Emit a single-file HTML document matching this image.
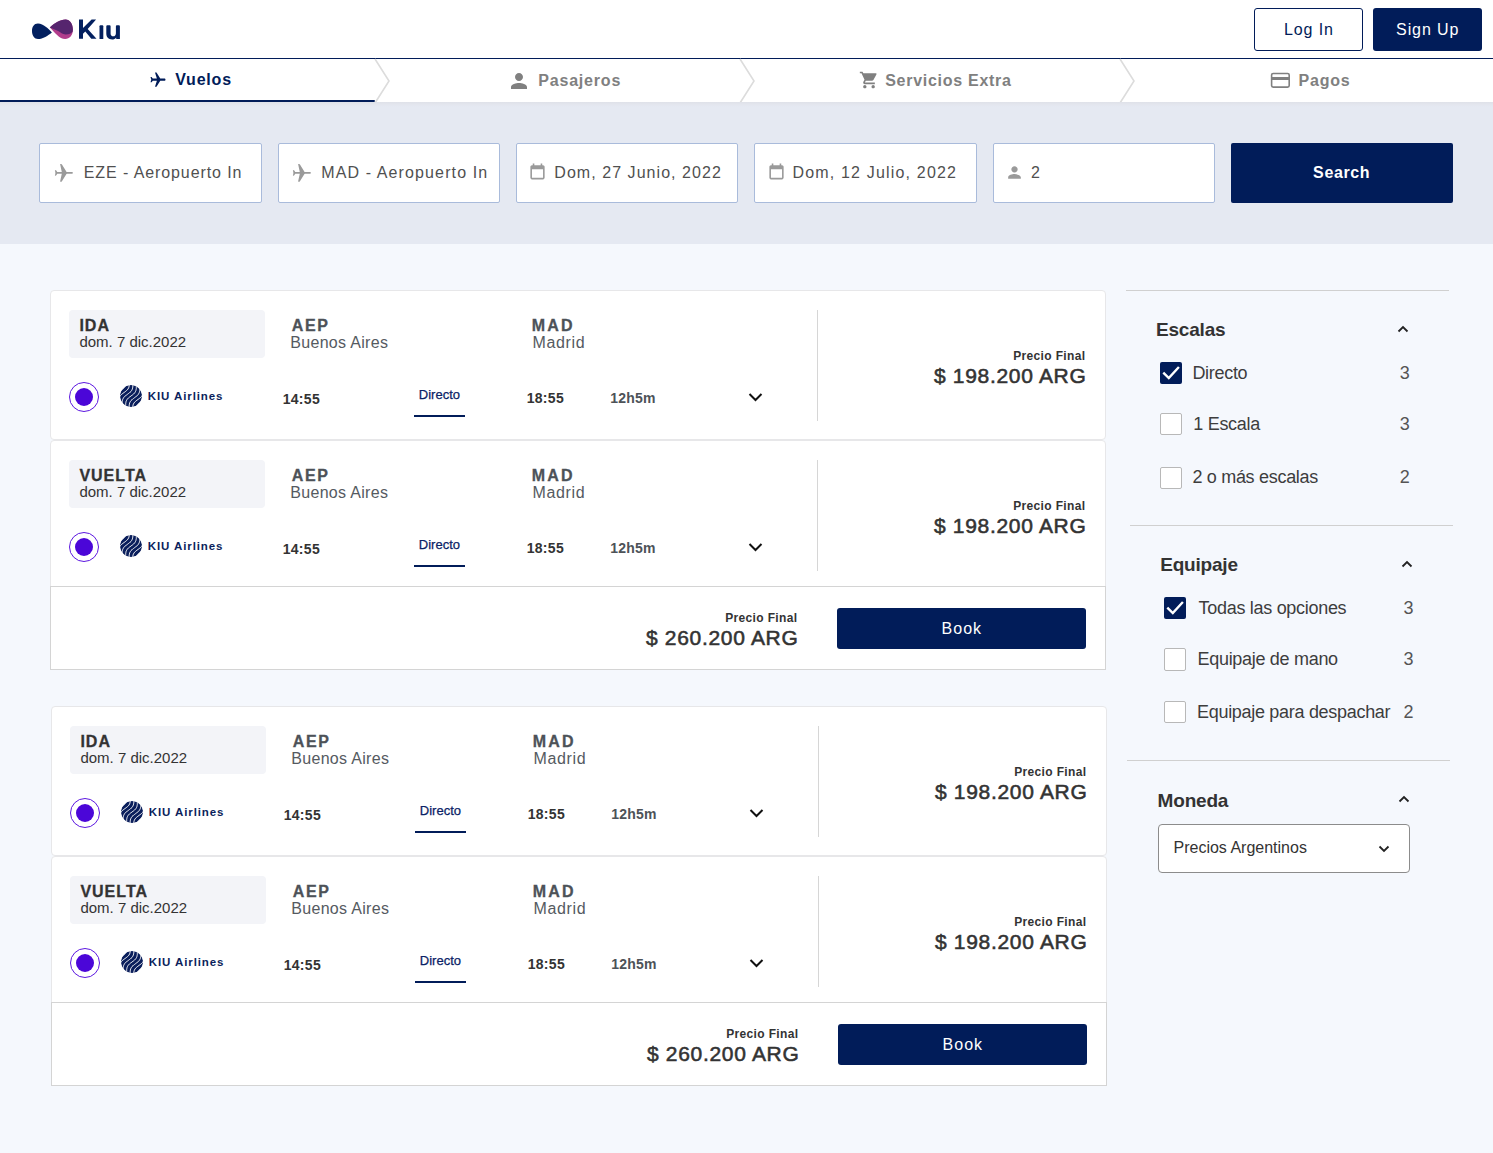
<!DOCTYPE html>
<html><head><meta charset="utf-8"><title>Kiu - Vuelos</title>
<style>
html,body{margin:0;padding:0;}
body{width:1493px;height:1153px;position:relative;overflow:hidden;background:#f5f8fd;font-family:"Liberation Sans",sans-serif;}
.b{position:absolute;display:block;}
.t{position:absolute;white-space:nowrap;}
</style></head><body>
<div class="b" style="left:0px;top:0px;width:1493px;height:58px;background:#fff"></div>
<div class="b" style="left:0px;top:58px;width:1493px;height:1px;background:#011c59"></div>
<svg class="b" style="left:0px;top:0px" width="130" height="58" viewBox="0 0 130 58">
<path d="M51.9 32.4 C48.5 29, 43.5 23.8, 38 23.6 C34.2 23.5, 32 27, 32 31 C32 35.5, 34.5 39, 38 39 C43 39, 48 35.5, 51.9 32.4 Z" fill="#03205f"/>
<path d="M49.8 27.4 C54 23.5, 60 19.4, 65.5 19.4 C70 19.4, 72.9 24, 72.9 29.7 C72.9 35, 69.5 39, 65.2 39 C59.5 39, 54.5 32, 49.8 27.4 Z" fill="#b23d8c"/>
<path d="M49.8 27.4 C52.5 28.6, 55.5 29.8, 58.1 31.1 C60.5 32.5, 62.5 34.4, 65.5 34.5 C68.8 34.6, 71.5 33.5, 72.6 31.8 L72.9 29.7 C72.9 24, 70 19.4, 65.5 19.4 C60 19.4, 54 23.5, 49.8 27.4 Z" fill="#56256e"/>
<path d="M79 19.4 H83 V28 L91.6 19.4 H96.1 L87.7 28.9 L96.5 38.8 H91.3 L85.3 31.5 L83 33.8 V38.8 H79 Z" fill="#03205f"/>
<path d="M99.5 26.2 Q99.5 25.2 100.5 25.2 H102.3 Q103.3 25.2 103.3 26.2 V39 H99.5 Z" fill="#03205f"/>
<path d="M106.3 26.2 Q106.3 25.2 107.3 25.2 H109.6 Q110.6 25.2 110.6 26.2 V33.5 C110.6 35.4 111.6 36.3 113.2 36.3 C114.9 36.3 115.9 35.2 115.9 33.2 V26.2 Q115.9 25.2 116.9 25.2 H118.9 Q119.9 25.2 119.9 26.2 V39 H116.2 V37.4 C115.2 38.8 113.8 39.5 112.2 39.5 C108.4 39.5 106.3 37.2 106.3 33.6 Z" fill="#03205f"/>
</svg>
<div class="b" style="left:1254px;top:8px;width:109px;height:43px;box-sizing:border-box;border:1.25px solid #011c59;border-radius:3px;background:#fff"></div>
<div class="t" style="left:1008.90px;width:600px;text-align:center;top:22.15px;font-size:16px;line-height:16px;font-weight:400;color:#011c59;letter-spacing:0.9px;">Log In</div>
<div class="b" style="left:1373px;top:8px;width:109px;height:43px;background:#011c59;border-radius:3px"></div>
<div class="t" style="left:1127.70px;width:600px;text-align:center;top:22.15px;font-size:16px;line-height:16px;font-weight:400;color:#fff;letter-spacing:0.9px;">Sign Up</div>
<div class="b" style="left:0px;top:59px;width:1493px;height:43px;background:#fff"></div>
<div class="b" style="left:0px;top:100px;width:375px;height:2px;background:#011c59;border-radius:0 2px 2px 0"></div>
<svg class="b" style="left:372.7px;top:58px" width="20" height="46" viewBox="0 0 20 46"><polyline points="2,1 16,23 2,45" fill="none" stroke="#dcdcdc" stroke-width="1.6"/></svg>
<svg class="b" style="left:737.5px;top:58px" width="20" height="46" viewBox="0 0 20 46"><polyline points="2,1 16,23 2,45" fill="none" stroke="#dcdcdc" stroke-width="1.6"/></svg>
<svg class="b" style="left:1117.5px;top:58px" width="20" height="46" viewBox="0 0 20 46"><polyline points="2,1 16,23 2,45" fill="none" stroke="#dcdcdc" stroke-width="1.6"/></svg>
<svg class="b" style="left:148.5px;top:71.3px" width="18" height="18" viewBox="0 0 24 24"><g fill="#011c59"><path d="M21 16v-2l-8-5V3.5c0-.83-.67-1.5-1.5-1.5S10 2.67 10 3.5V9l-8 5v2l8-2.5V19l-2 1.5V22l3.5-1 3.5 1v-1.5L13 19v-5.5l8 2.5z" transform="rotate(90 12 12)"/></g></svg>
<div class="t" style="left:175.20px;top:72.45px;font-size:16px;line-height:16px;font-weight:700;color:#011c59;letter-spacing:0.8px;">Vuelos</div>
<svg class="b" style="left:507px;top:69px" width="24" height="24" viewBox="0 0 24 24"><g fill="#808080"><path d="M12 12c2.21 0 4-1.79 4-4s-1.79-4-4-4-4 1.79-4 4 1.79 4 4 4zm0 2c-2.67 0-8 1.34-8 4v2h16v-2c0-2.66-5.33-4-8-4z"/></g></svg>
<div class="t" style="left:538.30px;top:72.65px;font-size:16px;line-height:16px;font-weight:700;color:#808080;letter-spacing:0.8px;">Pasajeros</div>
<svg class="b" style="left:858.7px;top:70.4px" width="20" height="20" viewBox="0 0 24 24"><g fill="#808080"><path d="M7 18c-1.1 0-1.99.9-1.99 2S5.9 22 7 22s2-.9 2-2-.9-2-2-2zM1 2v2h2l3.6 7.59-1.35 2.45c-.16.28-.25.61-.25.96 0 1.1.9 2 2 2h12v-2H7.42c-.14 0-.25-.11-.25-.25l.03-.12.9-1.63h7.45c.75 0 1.41-.41 1.75-1.03l3.58-6.49A1.003 1.003 0 0020 4H5.21l-.94-2H1zm16 16c-1.1 0-1.99.9-1.99 2s.89 2 1.99 2 2-.9 2-2-.9-2-2-2z"/></g></svg>
<div class="t" style="left:885.20px;top:72.65px;font-size:16px;line-height:16px;font-weight:700;color:#808080;letter-spacing:0.72px;">Servicios Extra</div>
<svg class="b" style="left:1268px;top:70px" width="24" height="20" viewBox="0 0 24 20"><rect x="3.6" y="3.5" width="17.6" height="13.6" rx="1.6" fill="none" stroke="#808080" stroke-width="1.6"/><rect x="3" y="7" width="18.8" height="3" fill="#808080"/></svg>
<div class="t" style="left:1298.50px;top:72.65px;font-size:16px;line-height:16px;font-weight:700;color:#808080;letter-spacing:0.8px;">Pagos</div>
<div class="b" style="left:0px;top:102px;width:1493px;height:142px;background:linear-gradient(#dfe1e8 0px,#e3e6ee 2.5px,#e5e9f2 5px)"></div>
<div class="b" style="left:0px;top:244px;width:1493px;height:909px;background:#f5f8fd"></div>
<div class="b" style="left:39.3px;top:143px;width:222.3px;height:60px;box-sizing:border-box;border:1px solid #a9bbdb;border-radius:2px;background:#fff"></div>
<div class="b" style="left:277.6px;top:143px;width:222.3px;height:60px;box-sizing:border-box;border:1px solid #a9bbdb;border-radius:2px;background:#fff"></div>
<div class="b" style="left:516.0px;top:143px;width:222.3px;height:60px;box-sizing:border-box;border:1px solid #a9bbdb;border-radius:2px;background:#fff"></div>
<div class="b" style="left:754.3px;top:143px;width:222.3px;height:60px;box-sizing:border-box;border:1px solid #a9bbdb;border-radius:2px;background:#fff"></div>
<div class="b" style="left:992.6px;top:143px;width:222.3px;height:60px;box-sizing:border-box;border:1px solid #a9bbdb;border-radius:2px;background:#fff"></div>
<svg class="b" style="left:50px;top:158px" width="30" height="30" viewBox="0 0 30 30"><g fill="#9a9a9a"><path d="M7 13.9 H22 Q22.9 13.9 22.9 14.8 Q22.9 15.7 22 15.7 H7 Z"/><path d="M4.9 12.1 Q6.6 12.3 7.2 13.9 V15.7 Q6.6 17.6 4.9 17.9 Q5.9 15 4.9 12.1 Z"/><path d="M11.9 14.8 L11.8 13.95 L10.1 6.1 Q11 5.7 11.8 6.2 L16.6 13.95 L17 14.8 L16.6 15.65 L11.8 23.5 Q11 24 10.1 23.6 L11.8 15.65 Z"/></g></svg>
<div class="t" style="left:83.80px;top:165.45px;font-size:16px;line-height:16px;font-weight:400;color:#505050;letter-spacing:0.9px;">EZE - Aeropuerto In</div>
<svg class="b" style="left:288.3px;top:158px" width="30" height="30" viewBox="0 0 30 30"><g fill="#9a9a9a"><path d="M7 13.9 H22 Q22.9 13.9 22.9 14.8 Q22.9 15.7 22 15.7 H7 Z"/><path d="M4.9 12.1 Q6.6 12.3 7.2 13.9 V15.7 Q6.6 17.6 4.9 17.9 Q5.9 15 4.9 12.1 Z"/><path d="M11.9 14.8 L11.8 13.95 L10.1 6.1 Q11 5.7 11.8 6.2 L16.6 13.95 L17 14.8 L16.6 15.65 L11.8 23.5 Q11 24 10.1 23.6 L11.8 15.65 Z"/></g></svg>
<div class="t" style="left:321.20px;top:165.45px;font-size:16px;line-height:16px;font-weight:400;color:#505050;letter-spacing:1.12px;">MAD - Aeropuerto In</div>
<svg class="b" style="left:528px;top:162px" width="19" height="19" viewBox="0 0 24 24"><g fill="#9a9a9a"><path d="M19 4h-1V2h-2v2H8V2H6v2H5c-1.11 0-1.99.9-1.99 2L3 20c0 1.1.89 2 2 2h14c1.1 0 2-.9 2-2V6c0-1.1-.9-2-2-2zm0 16H5V9h14v11z"/></g></svg>
<div class="t" style="left:554.30px;top:165.45px;font-size:16px;line-height:16px;font-weight:400;color:#505050;letter-spacing:1.05px;">Dom, 27 Junio, 2022</div>
<svg class="b" style="left:766.5px;top:162px" width="19" height="19" viewBox="0 0 24 24"><g fill="#9a9a9a"><path d="M19 4h-1V2h-2v2H8V2H6v2H5c-1.11 0-1.99.9-1.99 2L3 20c0 1.1.89 2 2 2h14c1.1 0 2-.9 2-2V6c0-1.1-.9-2-2-2zm0 16H5V9h14v11z"/></g></svg>
<div class="t" style="left:792.40px;top:165.45px;font-size:16px;line-height:16px;font-weight:400;color:#505050;letter-spacing:1.18px;">Dom, 12 Julio, 2022</div>
<svg class="b" style="left:1005px;top:163px" width="19" height="19" viewBox="0 0 24 24"><g fill="#9a9a9a"><path d="M12 12c2.21 0 4-1.79 4-4s-1.79-4-4-4-4 1.79-4 4 1.79 4 4 4zm0 2c-2.67 0-8 1.34-8 4v2h16v-2c0-2.66-5.33-4-8-4z"/></g></svg>
<div class="t" style="left:1030.90px;top:165.45px;font-size:16px;line-height:16px;font-weight:400;color:#505050;letter-spacing:0px;">2</div>
<div class="b" style="left:1231px;top:143px;width:222.3px;height:60px;background:#011c59;border-radius:2px"></div>
<div class="t" style="left:1041.60px;width:600px;text-align:center;top:165.25px;font-size:16px;line-height:16px;font-weight:700;color:#fff;letter-spacing:0.6px;">Search</div>
<div class="b" style="left:50px;top:290px;width:1056px;height:150px;box-sizing:border-box;border:1px solid #e7e7e9;border-radius:4px;background:#fff"></div>
<div class="b" style="left:69px;top:310px;width:196px;height:48px;background:#f3f4f8;border-radius:4px"></div>
<div class="t" style="left:79.40px;top:318.25px;font-size:16px;line-height:16px;font-weight:700;color:#333;letter-spacing:1.0px;-webkit-text-stroke:0.3px #333;">IDA</div>
<div class="t" style="left:79.40px;top:334.00px;font-size:15px;line-height:15px;font-weight:400;color:#333;letter-spacing:0px;">dom. 7 dic.2022</div>
<div class="t" style="left:291.80px;top:317.85px;font-size:16px;line-height:16px;font-weight:700;color:#4d5258;letter-spacing:1.6px;-webkit-text-stroke:0.3px #4d5258;">AEP</div>
<div class="t" style="left:290.30px;top:334.55px;font-size:16px;line-height:16px;font-weight:400;color:#555a61;letter-spacing:0.3px;">Buenos Aires</div>
<div class="t" style="left:531.80px;top:317.85px;font-size:16px;line-height:16px;font-weight:700;color:#4d5258;letter-spacing:2.2px;-webkit-text-stroke:0.3px #4d5258;">MAD</div>
<div class="t" style="left:532.50px;top:334.55px;font-size:16px;line-height:16px;font-weight:400;color:#555a61;letter-spacing:0.65px;">Madrid</div>
<div class="b" style="left:69px;top:382px;width:30px;height:30px;box-sizing:border-box;border:1.8px solid #5c17e0;border-radius:50%;background:#fff"></div>
<div class="b" style="left:74.8px;top:387.5px;width:18.4px;height:18.4px;background:#4b06d8;border-radius:50%"></div>
<svg class="b" style="left:120.30000000000001px;top:385.2px" width="22" height="22" viewBox="0 0 22 22"><defs><clipPath id="c131396"><circle cx="11" cy="11" r="11"/></clipPath></defs><g clip-path="url(#c131396)"><circle cx="11" cy="11" r="11" fill="#0b1f5c"/><g stroke="#fff" stroke-width="0.95" fill="none" stroke-linejoin="round"><polyline points="-11.9,17.6 -11.8,16.6 -11.7,15.5 -11.7,14.4 -11.8,13.2 -11.8,12.1 -11.9,11.0 -11.8,9.9 -11.7,8.8 -11.4,7.9 -11.0,6.9 -10.5,6.1 -9.9,5.2 -9.2,4.5 -8.3,3.8 -7.5,3.1 -6.5,2.5 -5.6,1.8 -4.7,1.1 -3.9,0.4 -3.1,-0.3 -2.5,-1.2 -2.0,-2.0 -1.6,-3.0 -1.4,-3.9 -1.2,-5.0 -1.2,-6.1 -1.2,-7.2 -1.3,-8.3 -1.3,-9.5 -1.3,-10.6 -1.3,-11.7 -1.1,-12.7"/><polyline points="-8.4,19.3 -8.3,18.3 -8.2,17.2 -8.2,16.1 -8.3,14.9 -8.3,13.8 -8.3,12.7 -8.3,11.6 -8.2,10.6 -7.9,9.6 -7.5,8.6 -7.0,7.8 -6.4,7.0 -5.7,6.2 -4.8,5.5 -3.9,4.8 -3.0,4.2 -2.1,3.5 -1.2,2.8 -0.4,2.1 0.4,1.4 1.0,0.6 1.5,-0.3 1.9,-1.2 2.1,-2.2 2.3,-3.3 2.3,-4.4 2.3,-5.5 2.2,-6.6 2.2,-7.8 2.2,-8.9 2.2,-10.0 2.4,-11.0"/><polyline points="-4.9,21.0 -4.8,20.0 -4.7,18.9 -4.7,17.8 -4.8,16.7 -4.8,15.5 -4.8,14.4 -4.8,13.3 -4.7,12.3 -4.4,11.3 -4.0,10.3 -3.5,9.5 -2.9,8.7 -2.2,7.9 -1.3,7.2 -0.4,6.5 0.5,5.9 1.4,5.2 2.3,4.5 3.1,3.8 3.9,3.1 4.5,2.3 5.0,1.4 5.4,0.5 5.6,-0.5 5.8,-1.6 5.8,-2.7 5.8,-3.8 5.7,-4.9 5.7,-6.1 5.7,-7.2 5.7,-8.3 5.9,-9.3"/><polyline points="-1.4,22.8 -1.3,21.7 -1.2,20.6 -1.2,19.5 -1.3,18.4 -1.3,17.2 -1.3,16.1 -1.3,15.0 -1.2,14.0 -0.9,13.0 -0.5,12.1 -0.0,11.2 0.6,10.4 1.3,9.6 2.2,8.9 3.1,8.2 4.0,7.6 4.9,6.9 5.8,6.2 6.6,5.5 7.4,4.8 8.0,4.0 8.5,3.1 8.9,2.2 9.1,1.2 9.3,0.1 9.3,-0.9 9.3,-2.1 9.2,-3.2 9.2,-4.3 9.2,-5.5 9.2,-6.6 9.4,-7.6"/><polyline points="2.1,24.5 2.3,23.4 2.3,22.3 2.3,21.2 2.2,20.1 2.2,18.9 2.2,17.8 2.2,16.7 2.4,15.7 2.6,14.7 3.0,13.8 3.5,12.9 4.1,12.1 4.8,11.3 5.7,10.6 6.6,10.0 7.5,9.3 8.4,8.6 9.3,8.0 10.1,7.2 10.9,6.5 11.5,5.7 12.0,4.8 12.4,3.9 12.6,2.9 12.8,1.9 12.8,0.8 12.8,-0.4 12.8,-1.5 12.7,-2.6 12.7,-3.8 12.7,-4.8 12.9,-5.9"/><polyline points="5.6,26.2 5.8,25.1 5.8,24.0 5.8,22.9 5.7,21.8 5.7,20.6 5.7,19.5 5.7,18.4 5.9,17.4 6.1,16.4 6.5,15.5 7.0,14.6 7.6,13.8 8.4,13.0 9.2,12.3 10.1,11.7 11.0,11.0 11.9,10.3 12.8,9.7 13.6,9.0 14.4,8.2 15.0,7.4 15.5,6.5 15.9,5.6 16.1,4.6 16.3,3.6 16.3,2.5 16.3,1.4 16.3,0.2 16.2,-0.9 16.2,-2.0 16.2,-3.1 16.4,-4.2"/><polyline points="9.1,27.9 9.3,26.8 9.3,25.8 9.3,24.6 9.2,23.5 9.2,22.4 9.2,21.2 9.2,20.1 9.4,19.1 9.6,18.1 10.0,17.2 10.5,16.3 11.1,15.5 11.9,14.8 12.7,14.0 13.6,13.4 14.5,12.7 15.4,12.0 16.3,11.4 17.2,10.7 17.9,9.9 18.5,9.1 19.0,8.2 19.4,7.3 19.6,6.3 19.8,5.3 19.8,4.2 19.8,3.1 19.8,1.9 19.7,0.8 19.7,-0.3 19.7,-1.4 19.9,-2.5"/><polyline points="12.6,29.6 12.8,28.6 12.8,27.5 12.8,26.3 12.8,25.2 12.7,24.1 12.7,22.9 12.7,21.9 12.9,20.8 13.1,19.8 13.5,18.9 14.0,18.0 14.6,17.2 15.4,16.5 16.2,15.8 17.1,15.1 18.0,14.4 18.9,13.8 19.8,13.1 20.7,12.4 21.4,11.6 22.0,10.8 22.5,9.9 22.9,9.0 23.2,8.0 23.3,7.0 23.3,5.9 23.3,4.8 23.3,3.6 23.2,2.5 23.2,1.4 23.3,0.3 23.4,-0.8"/><polyline points="16.1,31.3 16.3,30.3 16.3,29.2 16.3,28.1 16.3,26.9 16.2,25.8 16.2,24.7 16.2,23.6 16.4,22.5 16.6,21.5 17.0,20.6 17.5,19.7 18.1,18.9 18.9,18.2 19.7,17.5 20.6,16.8 21.5,16.1 22.4,15.5 23.3,14.8 24.2,14.1 24.9,13.3 25.5,12.5 26.0,11.7 26.4,10.7 26.7,9.7 26.8,8.7 26.8,7.6 26.8,6.5 26.8,5.3 26.7,4.2 26.7,3.1 26.8,2.0 26.9,1.0"/><polyline points="19.6,33.0 19.8,32.0 19.8,30.9 19.8,29.8 19.8,28.6 19.7,27.5 19.7,26.4 19.7,25.3 19.9,24.2 20.1,23.2 20.5,22.3 21.0,21.4 21.6,20.6 22.4,19.9 23.2,19.2 24.1,18.5 25.0,17.8 25.9,17.2 26.8,16.5 27.7,15.8 28.4,15.0 29.0,14.2 29.5,13.4 29.9,12.4 30.2,11.4 30.3,10.4 30.3,9.3 30.3,8.2 30.3,7.1 30.2,5.9 30.2,4.8 30.3,3.7 30.4,2.7"/><polyline points="23.1,34.7 23.3,33.7 23.3,32.6 23.3,31.5 23.3,30.3 23.2,29.2 23.2,28.1 23.2,27.0 23.4,25.9 23.6,25.0 24.0,24.0 24.5,23.2 25.1,22.3 25.9,21.6 26.7,20.9 27.6,20.2 28.5,19.5 29.5,18.9 30.3,18.2 31.2,17.5 31.9,16.8 32.5,15.9 33.0,15.1 33.4,14.1 33.7,13.2 33.8,12.1 33.9,11.0 33.8,9.9 33.8,8.8 33.7,7.6 33.7,6.5 33.8,5.4 33.9,4.4"/></g></g></svg>
<div class="t" style="left:147.80px;top:391.06px;font-size:11.5px;line-height:11.5px;font-weight:700;color:#0b1f5c;letter-spacing:0.9px;">KIU Airlines</div>
<div class="t" style="left:282.70px;top:391.65px;font-size:14px;line-height:14px;font-weight:700;color:#333;letter-spacing:0.3px;">14:55</div>
<div class="t" style="left:418.80px;top:388.19px;font-size:13px;line-height:13px;font-weight:400;color:#0a2266;letter-spacing:0px;-webkit-text-stroke:0.25px #0a2266;">Directo</div>
<div class="b" style="left:414px;top:415px;width:51px;height:2px;background:#011c59"></div>
<div class="t" style="left:526.70px;top:391.35px;font-size:14px;line-height:14px;font-weight:700;color:#333;letter-spacing:0.3px;">18:55</div>
<div class="t" style="left:610.30px;top:391.35px;font-size:14px;line-height:14px;font-weight:700;color:#4d5258;letter-spacing:0.2px;">12h5m</div>
<svg class="b" style="left:747px;top:390.7px" width="17" height="12" viewBox="0 0 17 12"><polyline points="2.5,3 8.5,9 14.5,3" fill="none" stroke="#111" stroke-width="2"/></svg>
<div class="b" style="left:817px;top:310px;width:1px;height:111px;background:#d6d6d6"></div>
<div class="t" style="right:407.60px;top:349.54px;font-size:12px;line-height:12px;font-weight:700;color:#333;letter-spacing:0.35px;">Precio Final</div>
<div class="t" style="right:406.55px;top:364.52px;font-size:21px;line-height:21px;font-weight:400;color:#333;letter-spacing:0.68px;-webkit-text-stroke:0.55px #333;">$ 198.200 ARG</div>
<div class="b" style="left:50px;top:440px;width:1056px;height:150px;box-sizing:border-box;border:1px solid #e7e7e9;border-radius:4px;background:#fff"></div>
<div class="b" style="left:69px;top:460px;width:196px;height:48px;background:#f3f4f8;border-radius:4px"></div>
<div class="t" style="left:79.40px;top:468.25px;font-size:16px;line-height:16px;font-weight:700;color:#333;letter-spacing:1.0px;-webkit-text-stroke:0.3px #333;">VUELTA</div>
<div class="t" style="left:79.40px;top:484.00px;font-size:15px;line-height:15px;font-weight:400;color:#333;letter-spacing:0px;">dom. 7 dic.2022</div>
<div class="t" style="left:291.80px;top:467.85px;font-size:16px;line-height:16px;font-weight:700;color:#4d5258;letter-spacing:1.6px;-webkit-text-stroke:0.3px #4d5258;">AEP</div>
<div class="t" style="left:290.30px;top:484.55px;font-size:16px;line-height:16px;font-weight:400;color:#555a61;letter-spacing:0.3px;">Buenos Aires</div>
<div class="t" style="left:531.80px;top:467.85px;font-size:16px;line-height:16px;font-weight:700;color:#4d5258;letter-spacing:2.2px;-webkit-text-stroke:0.3px #4d5258;">MAD</div>
<div class="t" style="left:532.50px;top:484.55px;font-size:16px;line-height:16px;font-weight:400;color:#555a61;letter-spacing:0.65px;">Madrid</div>
<div class="b" style="left:69px;top:532px;width:30px;height:30px;box-sizing:border-box;border:1.8px solid #5c17e0;border-radius:50%;background:#fff"></div>
<div class="b" style="left:74.8px;top:537.5px;width:18.4px;height:18.4px;background:#4b06d8;border-radius:50%"></div>
<svg class="b" style="left:120.30000000000001px;top:535.2px" width="22" height="22" viewBox="0 0 22 22"><defs><clipPath id="c131546"><circle cx="11" cy="11" r="11"/></clipPath></defs><g clip-path="url(#c131546)"><circle cx="11" cy="11" r="11" fill="#0b1f5c"/><g stroke="#fff" stroke-width="0.95" fill="none" stroke-linejoin="round"><polyline points="-11.9,17.6 -11.8,16.6 -11.7,15.5 -11.7,14.4 -11.8,13.2 -11.8,12.1 -11.9,11.0 -11.8,9.9 -11.7,8.8 -11.4,7.9 -11.0,6.9 -10.5,6.1 -9.9,5.2 -9.2,4.5 -8.3,3.8 -7.5,3.1 -6.5,2.5 -5.6,1.8 -4.7,1.1 -3.9,0.4 -3.1,-0.3 -2.5,-1.2 -2.0,-2.0 -1.6,-3.0 -1.4,-3.9 -1.2,-5.0 -1.2,-6.1 -1.2,-7.2 -1.3,-8.3 -1.3,-9.5 -1.3,-10.6 -1.3,-11.7 -1.1,-12.7"/><polyline points="-8.4,19.3 -8.3,18.3 -8.2,17.2 -8.2,16.1 -8.3,14.9 -8.3,13.8 -8.3,12.7 -8.3,11.6 -8.2,10.6 -7.9,9.6 -7.5,8.6 -7.0,7.8 -6.4,7.0 -5.7,6.2 -4.8,5.5 -3.9,4.8 -3.0,4.2 -2.1,3.5 -1.2,2.8 -0.4,2.1 0.4,1.4 1.0,0.6 1.5,-0.3 1.9,-1.2 2.1,-2.2 2.3,-3.3 2.3,-4.4 2.3,-5.5 2.2,-6.6 2.2,-7.8 2.2,-8.9 2.2,-10.0 2.4,-11.0"/><polyline points="-4.9,21.0 -4.8,20.0 -4.7,18.9 -4.7,17.8 -4.8,16.7 -4.8,15.5 -4.8,14.4 -4.8,13.3 -4.7,12.3 -4.4,11.3 -4.0,10.3 -3.5,9.5 -2.9,8.7 -2.2,7.9 -1.3,7.2 -0.4,6.5 0.5,5.9 1.4,5.2 2.3,4.5 3.1,3.8 3.9,3.1 4.5,2.3 5.0,1.4 5.4,0.5 5.6,-0.5 5.8,-1.6 5.8,-2.7 5.8,-3.8 5.7,-4.9 5.7,-6.1 5.7,-7.2 5.7,-8.3 5.9,-9.3"/><polyline points="-1.4,22.8 -1.3,21.7 -1.2,20.6 -1.2,19.5 -1.3,18.4 -1.3,17.2 -1.3,16.1 -1.3,15.0 -1.2,14.0 -0.9,13.0 -0.5,12.1 -0.0,11.2 0.6,10.4 1.3,9.6 2.2,8.9 3.1,8.2 4.0,7.6 4.9,6.9 5.8,6.2 6.6,5.5 7.4,4.8 8.0,4.0 8.5,3.1 8.9,2.2 9.1,1.2 9.3,0.1 9.3,-0.9 9.3,-2.1 9.2,-3.2 9.2,-4.3 9.2,-5.5 9.2,-6.6 9.4,-7.6"/><polyline points="2.1,24.5 2.3,23.4 2.3,22.3 2.3,21.2 2.2,20.1 2.2,18.9 2.2,17.8 2.2,16.7 2.4,15.7 2.6,14.7 3.0,13.8 3.5,12.9 4.1,12.1 4.8,11.3 5.7,10.6 6.6,10.0 7.5,9.3 8.4,8.6 9.3,8.0 10.1,7.2 10.9,6.5 11.5,5.7 12.0,4.8 12.4,3.9 12.6,2.9 12.8,1.9 12.8,0.8 12.8,-0.4 12.8,-1.5 12.7,-2.6 12.7,-3.8 12.7,-4.8 12.9,-5.9"/><polyline points="5.6,26.2 5.8,25.1 5.8,24.0 5.8,22.9 5.7,21.8 5.7,20.6 5.7,19.5 5.7,18.4 5.9,17.4 6.1,16.4 6.5,15.5 7.0,14.6 7.6,13.8 8.4,13.0 9.2,12.3 10.1,11.7 11.0,11.0 11.9,10.3 12.8,9.7 13.6,9.0 14.4,8.2 15.0,7.4 15.5,6.5 15.9,5.6 16.1,4.6 16.3,3.6 16.3,2.5 16.3,1.4 16.3,0.2 16.2,-0.9 16.2,-2.0 16.2,-3.1 16.4,-4.2"/><polyline points="9.1,27.9 9.3,26.8 9.3,25.8 9.3,24.6 9.2,23.5 9.2,22.4 9.2,21.2 9.2,20.1 9.4,19.1 9.6,18.1 10.0,17.2 10.5,16.3 11.1,15.5 11.9,14.8 12.7,14.0 13.6,13.4 14.5,12.7 15.4,12.0 16.3,11.4 17.2,10.7 17.9,9.9 18.5,9.1 19.0,8.2 19.4,7.3 19.6,6.3 19.8,5.3 19.8,4.2 19.8,3.1 19.8,1.9 19.7,0.8 19.7,-0.3 19.7,-1.4 19.9,-2.5"/><polyline points="12.6,29.6 12.8,28.6 12.8,27.5 12.8,26.3 12.8,25.2 12.7,24.1 12.7,22.9 12.7,21.9 12.9,20.8 13.1,19.8 13.5,18.9 14.0,18.0 14.6,17.2 15.4,16.5 16.2,15.8 17.1,15.1 18.0,14.4 18.9,13.8 19.8,13.1 20.7,12.4 21.4,11.6 22.0,10.8 22.5,9.9 22.9,9.0 23.2,8.0 23.3,7.0 23.3,5.9 23.3,4.8 23.3,3.6 23.2,2.5 23.2,1.4 23.3,0.3 23.4,-0.8"/><polyline points="16.1,31.3 16.3,30.3 16.3,29.2 16.3,28.1 16.3,26.9 16.2,25.8 16.2,24.7 16.2,23.6 16.4,22.5 16.6,21.5 17.0,20.6 17.5,19.7 18.1,18.9 18.9,18.2 19.7,17.5 20.6,16.8 21.5,16.1 22.4,15.5 23.3,14.8 24.2,14.1 24.9,13.3 25.5,12.5 26.0,11.7 26.4,10.7 26.7,9.7 26.8,8.7 26.8,7.6 26.8,6.5 26.8,5.3 26.7,4.2 26.7,3.1 26.8,2.0 26.9,1.0"/><polyline points="19.6,33.0 19.8,32.0 19.8,30.9 19.8,29.8 19.8,28.6 19.7,27.5 19.7,26.4 19.7,25.3 19.9,24.2 20.1,23.2 20.5,22.3 21.0,21.4 21.6,20.6 22.4,19.9 23.2,19.2 24.1,18.5 25.0,17.8 25.9,17.2 26.8,16.5 27.7,15.8 28.4,15.0 29.0,14.2 29.5,13.4 29.9,12.4 30.2,11.4 30.3,10.4 30.3,9.3 30.3,8.2 30.3,7.1 30.2,5.9 30.2,4.8 30.3,3.7 30.4,2.7"/><polyline points="23.1,34.7 23.3,33.7 23.3,32.6 23.3,31.5 23.3,30.3 23.2,29.2 23.2,28.1 23.2,27.0 23.4,25.9 23.6,25.0 24.0,24.0 24.5,23.2 25.1,22.3 25.9,21.6 26.7,20.9 27.6,20.2 28.5,19.5 29.5,18.9 30.3,18.2 31.2,17.5 31.9,16.8 32.5,15.9 33.0,15.1 33.4,14.1 33.7,13.2 33.8,12.1 33.9,11.0 33.8,9.9 33.8,8.8 33.7,7.6 33.7,6.5 33.8,5.4 33.9,4.4"/></g></g></svg>
<div class="t" style="left:147.80px;top:541.06px;font-size:11.5px;line-height:11.5px;font-weight:700;color:#0b1f5c;letter-spacing:0.9px;">KIU Airlines</div>
<div class="t" style="left:282.70px;top:541.65px;font-size:14px;line-height:14px;font-weight:700;color:#333;letter-spacing:0.3px;">14:55</div>
<div class="t" style="left:418.80px;top:538.19px;font-size:13px;line-height:13px;font-weight:400;color:#0a2266;letter-spacing:0px;-webkit-text-stroke:0.25px #0a2266;">Directo</div>
<div class="b" style="left:414px;top:565px;width:51px;height:2px;background:#011c59"></div>
<div class="t" style="left:526.70px;top:541.35px;font-size:14px;line-height:14px;font-weight:700;color:#333;letter-spacing:0.3px;">18:55</div>
<div class="t" style="left:610.30px;top:541.35px;font-size:14px;line-height:14px;font-weight:700;color:#4d5258;letter-spacing:0.2px;">12h5m</div>
<svg class="b" style="left:747px;top:540.7px" width="17" height="12" viewBox="0 0 17 12"><polyline points="2.5,3 8.5,9 14.5,3" fill="none" stroke="#111" stroke-width="2"/></svg>
<div class="b" style="left:817px;top:460px;width:1px;height:111px;background:#d6d6d6"></div>
<div class="t" style="right:407.60px;top:499.54px;font-size:12px;line-height:12px;font-weight:700;color:#333;letter-spacing:0.35px;">Precio Final</div>
<div class="t" style="right:406.55px;top:514.52px;font-size:21px;line-height:21px;font-weight:400;color:#333;letter-spacing:0.68px;-webkit-text-stroke:0.55px #333;">$ 198.200 ARG</div>
<div class="b" style="left:50px;top:586px;width:1056px;height:84px;box-sizing:border-box;border:1px solid #d4d4d4;background:#fff"></div>
<div class="t" style="right:695.60px;top:611.84px;font-size:12px;line-height:12px;font-weight:700;color:#333;letter-spacing:0.35px;">Precio Final</div>
<div class="t" style="right:694.55px;top:626.82px;font-size:21px;line-height:21px;font-weight:400;color:#333;letter-spacing:0.68px;-webkit-text-stroke:0.55px #333;">$ 260.200 ARG</div>
<div class="b" style="left:837px;top:607.5px;width:249px;height:41px;background:#011c59;border-radius:3px"></div>
<div class="t" style="left:661.80px;width:600px;text-align:center;top:620.65px;font-size:16px;line-height:16px;font-weight:400;color:#fff;letter-spacing:1.0px;">Book</div>
<div class="b" style="left:51px;top:706px;width:1056px;height:150px;box-sizing:border-box;border:1px solid #e7e7e9;border-radius:4px;background:#fff"></div>
<div class="b" style="left:70px;top:726px;width:196px;height:48px;background:#f3f4f8;border-radius:4px"></div>
<div class="t" style="left:80.40px;top:734.25px;font-size:16px;line-height:16px;font-weight:700;color:#333;letter-spacing:1.0px;-webkit-text-stroke:0.3px #333;">IDA</div>
<div class="t" style="left:80.40px;top:750.00px;font-size:15px;line-height:15px;font-weight:400;color:#333;letter-spacing:0px;">dom. 7 dic.2022</div>
<div class="t" style="left:292.80px;top:733.85px;font-size:16px;line-height:16px;font-weight:700;color:#4d5258;letter-spacing:1.6px;-webkit-text-stroke:0.3px #4d5258;">AEP</div>
<div class="t" style="left:291.30px;top:750.55px;font-size:16px;line-height:16px;font-weight:400;color:#555a61;letter-spacing:0.3px;">Buenos Aires</div>
<div class="t" style="left:532.80px;top:733.85px;font-size:16px;line-height:16px;font-weight:700;color:#4d5258;letter-spacing:2.2px;-webkit-text-stroke:0.3px #4d5258;">MAD</div>
<div class="t" style="left:533.50px;top:750.55px;font-size:16px;line-height:16px;font-weight:400;color:#555a61;letter-spacing:0.65px;">Madrid</div>
<div class="b" style="left:70px;top:798px;width:30px;height:30px;box-sizing:border-box;border:1.8px solid #5c17e0;border-radius:50%;background:#fff"></div>
<div class="b" style="left:75.8px;top:803.5px;width:18.4px;height:18.4px;background:#4b06d8;border-radius:50%"></div>
<svg class="b" style="left:121.30000000000001px;top:801.2px" width="22" height="22" viewBox="0 0 22 22"><defs><clipPath id="c132812"><circle cx="11" cy="11" r="11"/></clipPath></defs><g clip-path="url(#c132812)"><circle cx="11" cy="11" r="11" fill="#0b1f5c"/><g stroke="#fff" stroke-width="0.95" fill="none" stroke-linejoin="round"><polyline points="-11.9,17.6 -11.8,16.6 -11.7,15.5 -11.7,14.4 -11.8,13.2 -11.8,12.1 -11.9,11.0 -11.8,9.9 -11.7,8.8 -11.4,7.9 -11.0,6.9 -10.5,6.1 -9.9,5.2 -9.2,4.5 -8.3,3.8 -7.5,3.1 -6.5,2.5 -5.6,1.8 -4.7,1.1 -3.9,0.4 -3.1,-0.3 -2.5,-1.2 -2.0,-2.0 -1.6,-3.0 -1.4,-3.9 -1.2,-5.0 -1.2,-6.1 -1.2,-7.2 -1.3,-8.3 -1.3,-9.5 -1.3,-10.6 -1.3,-11.7 -1.1,-12.7"/><polyline points="-8.4,19.3 -8.3,18.3 -8.2,17.2 -8.2,16.1 -8.3,14.9 -8.3,13.8 -8.3,12.7 -8.3,11.6 -8.2,10.6 -7.9,9.6 -7.5,8.6 -7.0,7.8 -6.4,7.0 -5.7,6.2 -4.8,5.5 -3.9,4.8 -3.0,4.2 -2.1,3.5 -1.2,2.8 -0.4,2.1 0.4,1.4 1.0,0.6 1.5,-0.3 1.9,-1.2 2.1,-2.2 2.3,-3.3 2.3,-4.4 2.3,-5.5 2.2,-6.6 2.2,-7.8 2.2,-8.9 2.2,-10.0 2.4,-11.0"/><polyline points="-4.9,21.0 -4.8,20.0 -4.7,18.9 -4.7,17.8 -4.8,16.7 -4.8,15.5 -4.8,14.4 -4.8,13.3 -4.7,12.3 -4.4,11.3 -4.0,10.3 -3.5,9.5 -2.9,8.7 -2.2,7.9 -1.3,7.2 -0.4,6.5 0.5,5.9 1.4,5.2 2.3,4.5 3.1,3.8 3.9,3.1 4.5,2.3 5.0,1.4 5.4,0.5 5.6,-0.5 5.8,-1.6 5.8,-2.7 5.8,-3.8 5.7,-4.9 5.7,-6.1 5.7,-7.2 5.7,-8.3 5.9,-9.3"/><polyline points="-1.4,22.8 -1.3,21.7 -1.2,20.6 -1.2,19.5 -1.3,18.4 -1.3,17.2 -1.3,16.1 -1.3,15.0 -1.2,14.0 -0.9,13.0 -0.5,12.1 -0.0,11.2 0.6,10.4 1.3,9.6 2.2,8.9 3.1,8.2 4.0,7.6 4.9,6.9 5.8,6.2 6.6,5.5 7.4,4.8 8.0,4.0 8.5,3.1 8.9,2.2 9.1,1.2 9.3,0.1 9.3,-0.9 9.3,-2.1 9.2,-3.2 9.2,-4.3 9.2,-5.5 9.2,-6.6 9.4,-7.6"/><polyline points="2.1,24.5 2.3,23.4 2.3,22.3 2.3,21.2 2.2,20.1 2.2,18.9 2.2,17.8 2.2,16.7 2.4,15.7 2.6,14.7 3.0,13.8 3.5,12.9 4.1,12.1 4.8,11.3 5.7,10.6 6.6,10.0 7.5,9.3 8.4,8.6 9.3,8.0 10.1,7.2 10.9,6.5 11.5,5.7 12.0,4.8 12.4,3.9 12.6,2.9 12.8,1.9 12.8,0.8 12.8,-0.4 12.8,-1.5 12.7,-2.6 12.7,-3.8 12.7,-4.8 12.9,-5.9"/><polyline points="5.6,26.2 5.8,25.1 5.8,24.0 5.8,22.9 5.7,21.8 5.7,20.6 5.7,19.5 5.7,18.4 5.9,17.4 6.1,16.4 6.5,15.5 7.0,14.6 7.6,13.8 8.4,13.0 9.2,12.3 10.1,11.7 11.0,11.0 11.9,10.3 12.8,9.7 13.6,9.0 14.4,8.2 15.0,7.4 15.5,6.5 15.9,5.6 16.1,4.6 16.3,3.6 16.3,2.5 16.3,1.4 16.3,0.2 16.2,-0.9 16.2,-2.0 16.2,-3.1 16.4,-4.2"/><polyline points="9.1,27.9 9.3,26.8 9.3,25.8 9.3,24.6 9.2,23.5 9.2,22.4 9.2,21.2 9.2,20.1 9.4,19.1 9.6,18.1 10.0,17.2 10.5,16.3 11.1,15.5 11.9,14.8 12.7,14.0 13.6,13.4 14.5,12.7 15.4,12.0 16.3,11.4 17.2,10.7 17.9,9.9 18.5,9.1 19.0,8.2 19.4,7.3 19.6,6.3 19.8,5.3 19.8,4.2 19.8,3.1 19.8,1.9 19.7,0.8 19.7,-0.3 19.7,-1.4 19.9,-2.5"/><polyline points="12.6,29.6 12.8,28.6 12.8,27.5 12.8,26.3 12.8,25.2 12.7,24.1 12.7,22.9 12.7,21.9 12.9,20.8 13.1,19.8 13.5,18.9 14.0,18.0 14.6,17.2 15.4,16.5 16.2,15.8 17.1,15.1 18.0,14.4 18.9,13.8 19.8,13.1 20.7,12.4 21.4,11.6 22.0,10.8 22.5,9.9 22.9,9.0 23.2,8.0 23.3,7.0 23.3,5.9 23.3,4.8 23.3,3.6 23.2,2.5 23.2,1.4 23.3,0.3 23.4,-0.8"/><polyline points="16.1,31.3 16.3,30.3 16.3,29.2 16.3,28.1 16.3,26.9 16.2,25.8 16.2,24.7 16.2,23.6 16.4,22.5 16.6,21.5 17.0,20.6 17.5,19.7 18.1,18.9 18.9,18.2 19.7,17.5 20.6,16.8 21.5,16.1 22.4,15.5 23.3,14.8 24.2,14.1 24.9,13.3 25.5,12.5 26.0,11.7 26.4,10.7 26.7,9.7 26.8,8.7 26.8,7.6 26.8,6.5 26.8,5.3 26.7,4.2 26.7,3.1 26.8,2.0 26.9,1.0"/><polyline points="19.6,33.0 19.8,32.0 19.8,30.9 19.8,29.8 19.8,28.6 19.7,27.5 19.7,26.4 19.7,25.3 19.9,24.2 20.1,23.2 20.5,22.3 21.0,21.4 21.6,20.6 22.4,19.9 23.2,19.2 24.1,18.5 25.0,17.8 25.9,17.2 26.8,16.5 27.7,15.8 28.4,15.0 29.0,14.2 29.5,13.4 29.9,12.4 30.2,11.4 30.3,10.4 30.3,9.3 30.3,8.2 30.3,7.1 30.2,5.9 30.2,4.8 30.3,3.7 30.4,2.7"/><polyline points="23.1,34.7 23.3,33.7 23.3,32.6 23.3,31.5 23.3,30.3 23.2,29.2 23.2,28.1 23.2,27.0 23.4,25.9 23.6,25.0 24.0,24.0 24.5,23.2 25.1,22.3 25.9,21.6 26.7,20.9 27.6,20.2 28.5,19.5 29.5,18.9 30.3,18.2 31.2,17.5 31.9,16.8 32.5,15.9 33.0,15.1 33.4,14.1 33.7,13.2 33.8,12.1 33.9,11.0 33.8,9.9 33.8,8.8 33.7,7.6 33.7,6.5 33.8,5.4 33.9,4.4"/></g></g></svg>
<div class="t" style="left:148.80px;top:807.06px;font-size:11.5px;line-height:11.5px;font-weight:700;color:#0b1f5c;letter-spacing:0.9px;">KIU Airlines</div>
<div class="t" style="left:283.70px;top:807.65px;font-size:14px;line-height:14px;font-weight:700;color:#333;letter-spacing:0.3px;">14:55</div>
<div class="t" style="left:419.80px;top:804.19px;font-size:13px;line-height:13px;font-weight:400;color:#0a2266;letter-spacing:0px;-webkit-text-stroke:0.25px #0a2266;">Directo</div>
<div class="b" style="left:415px;top:831px;width:51px;height:2px;background:#011c59"></div>
<div class="t" style="left:527.70px;top:807.35px;font-size:14px;line-height:14px;font-weight:700;color:#333;letter-spacing:0.3px;">18:55</div>
<div class="t" style="left:611.30px;top:807.35px;font-size:14px;line-height:14px;font-weight:700;color:#4d5258;letter-spacing:0.2px;">12h5m</div>
<svg class="b" style="left:748px;top:806.7px" width="17" height="12" viewBox="0 0 17 12"><polyline points="2.5,3 8.5,9 14.5,3" fill="none" stroke="#111" stroke-width="2"/></svg>
<div class="b" style="left:818px;top:726px;width:1px;height:111px;background:#d6d6d6"></div>
<div class="t" style="right:406.60px;top:765.54px;font-size:12px;line-height:12px;font-weight:700;color:#333;letter-spacing:0.35px;">Precio Final</div>
<div class="t" style="right:405.55px;top:780.52px;font-size:21px;line-height:21px;font-weight:400;color:#333;letter-spacing:0.68px;-webkit-text-stroke:0.55px #333;">$ 198.200 ARG</div>
<div class="b" style="left:51px;top:856px;width:1056px;height:150px;box-sizing:border-box;border:1px solid #e7e7e9;border-radius:4px;background:#fff"></div>
<div class="b" style="left:70px;top:876px;width:196px;height:48px;background:#f3f4f8;border-radius:4px"></div>
<div class="t" style="left:80.40px;top:884.25px;font-size:16px;line-height:16px;font-weight:700;color:#333;letter-spacing:1.0px;-webkit-text-stroke:0.3px #333;">VUELTA</div>
<div class="t" style="left:80.40px;top:900.00px;font-size:15px;line-height:15px;font-weight:400;color:#333;letter-spacing:0px;">dom. 7 dic.2022</div>
<div class="t" style="left:292.80px;top:883.85px;font-size:16px;line-height:16px;font-weight:700;color:#4d5258;letter-spacing:1.6px;-webkit-text-stroke:0.3px #4d5258;">AEP</div>
<div class="t" style="left:291.30px;top:900.55px;font-size:16px;line-height:16px;font-weight:400;color:#555a61;letter-spacing:0.3px;">Buenos Aires</div>
<div class="t" style="left:532.80px;top:883.85px;font-size:16px;line-height:16px;font-weight:700;color:#4d5258;letter-spacing:2.2px;-webkit-text-stroke:0.3px #4d5258;">MAD</div>
<div class="t" style="left:533.50px;top:900.55px;font-size:16px;line-height:16px;font-weight:400;color:#555a61;letter-spacing:0.65px;">Madrid</div>
<div class="b" style="left:70px;top:948px;width:30px;height:30px;box-sizing:border-box;border:1.8px solid #5c17e0;border-radius:50%;background:#fff"></div>
<div class="b" style="left:75.8px;top:953.5px;width:18.4px;height:18.4px;background:#4b06d8;border-radius:50%"></div>
<svg class="b" style="left:121.30000000000001px;top:951.2px" width="22" height="22" viewBox="0 0 22 22"><defs><clipPath id="c132962"><circle cx="11" cy="11" r="11"/></clipPath></defs><g clip-path="url(#c132962)"><circle cx="11" cy="11" r="11" fill="#0b1f5c"/><g stroke="#fff" stroke-width="0.95" fill="none" stroke-linejoin="round"><polyline points="-11.9,17.6 -11.8,16.6 -11.7,15.5 -11.7,14.4 -11.8,13.2 -11.8,12.1 -11.9,11.0 -11.8,9.9 -11.7,8.8 -11.4,7.9 -11.0,6.9 -10.5,6.1 -9.9,5.2 -9.2,4.5 -8.3,3.8 -7.5,3.1 -6.5,2.5 -5.6,1.8 -4.7,1.1 -3.9,0.4 -3.1,-0.3 -2.5,-1.2 -2.0,-2.0 -1.6,-3.0 -1.4,-3.9 -1.2,-5.0 -1.2,-6.1 -1.2,-7.2 -1.3,-8.3 -1.3,-9.5 -1.3,-10.6 -1.3,-11.7 -1.1,-12.7"/><polyline points="-8.4,19.3 -8.3,18.3 -8.2,17.2 -8.2,16.1 -8.3,14.9 -8.3,13.8 -8.3,12.7 -8.3,11.6 -8.2,10.6 -7.9,9.6 -7.5,8.6 -7.0,7.8 -6.4,7.0 -5.7,6.2 -4.8,5.5 -3.9,4.8 -3.0,4.2 -2.1,3.5 -1.2,2.8 -0.4,2.1 0.4,1.4 1.0,0.6 1.5,-0.3 1.9,-1.2 2.1,-2.2 2.3,-3.3 2.3,-4.4 2.3,-5.5 2.2,-6.6 2.2,-7.8 2.2,-8.9 2.2,-10.0 2.4,-11.0"/><polyline points="-4.9,21.0 -4.8,20.0 -4.7,18.9 -4.7,17.8 -4.8,16.7 -4.8,15.5 -4.8,14.4 -4.8,13.3 -4.7,12.3 -4.4,11.3 -4.0,10.3 -3.5,9.5 -2.9,8.7 -2.2,7.9 -1.3,7.2 -0.4,6.5 0.5,5.9 1.4,5.2 2.3,4.5 3.1,3.8 3.9,3.1 4.5,2.3 5.0,1.4 5.4,0.5 5.6,-0.5 5.8,-1.6 5.8,-2.7 5.8,-3.8 5.7,-4.9 5.7,-6.1 5.7,-7.2 5.7,-8.3 5.9,-9.3"/><polyline points="-1.4,22.8 -1.3,21.7 -1.2,20.6 -1.2,19.5 -1.3,18.4 -1.3,17.2 -1.3,16.1 -1.3,15.0 -1.2,14.0 -0.9,13.0 -0.5,12.1 -0.0,11.2 0.6,10.4 1.3,9.6 2.2,8.9 3.1,8.2 4.0,7.6 4.9,6.9 5.8,6.2 6.6,5.5 7.4,4.8 8.0,4.0 8.5,3.1 8.9,2.2 9.1,1.2 9.3,0.1 9.3,-0.9 9.3,-2.1 9.2,-3.2 9.2,-4.3 9.2,-5.5 9.2,-6.6 9.4,-7.6"/><polyline points="2.1,24.5 2.3,23.4 2.3,22.3 2.3,21.2 2.2,20.1 2.2,18.9 2.2,17.8 2.2,16.7 2.4,15.7 2.6,14.7 3.0,13.8 3.5,12.9 4.1,12.1 4.8,11.3 5.7,10.6 6.6,10.0 7.5,9.3 8.4,8.6 9.3,8.0 10.1,7.2 10.9,6.5 11.5,5.7 12.0,4.8 12.4,3.9 12.6,2.9 12.8,1.9 12.8,0.8 12.8,-0.4 12.8,-1.5 12.7,-2.6 12.7,-3.8 12.7,-4.8 12.9,-5.9"/><polyline points="5.6,26.2 5.8,25.1 5.8,24.0 5.8,22.9 5.7,21.8 5.7,20.6 5.7,19.5 5.7,18.4 5.9,17.4 6.1,16.4 6.5,15.5 7.0,14.6 7.6,13.8 8.4,13.0 9.2,12.3 10.1,11.7 11.0,11.0 11.9,10.3 12.8,9.7 13.6,9.0 14.4,8.2 15.0,7.4 15.5,6.5 15.9,5.6 16.1,4.6 16.3,3.6 16.3,2.5 16.3,1.4 16.3,0.2 16.2,-0.9 16.2,-2.0 16.2,-3.1 16.4,-4.2"/><polyline points="9.1,27.9 9.3,26.8 9.3,25.8 9.3,24.6 9.2,23.5 9.2,22.4 9.2,21.2 9.2,20.1 9.4,19.1 9.6,18.1 10.0,17.2 10.5,16.3 11.1,15.5 11.9,14.8 12.7,14.0 13.6,13.4 14.5,12.7 15.4,12.0 16.3,11.4 17.2,10.7 17.9,9.9 18.5,9.1 19.0,8.2 19.4,7.3 19.6,6.3 19.8,5.3 19.8,4.2 19.8,3.1 19.8,1.9 19.7,0.8 19.7,-0.3 19.7,-1.4 19.9,-2.5"/><polyline points="12.6,29.6 12.8,28.6 12.8,27.5 12.8,26.3 12.8,25.2 12.7,24.1 12.7,22.9 12.7,21.9 12.9,20.8 13.1,19.8 13.5,18.9 14.0,18.0 14.6,17.2 15.4,16.5 16.2,15.8 17.1,15.1 18.0,14.4 18.9,13.8 19.8,13.1 20.7,12.4 21.4,11.6 22.0,10.8 22.5,9.9 22.9,9.0 23.2,8.0 23.3,7.0 23.3,5.9 23.3,4.8 23.3,3.6 23.2,2.5 23.2,1.4 23.3,0.3 23.4,-0.8"/><polyline points="16.1,31.3 16.3,30.3 16.3,29.2 16.3,28.1 16.3,26.9 16.2,25.8 16.2,24.7 16.2,23.6 16.4,22.5 16.6,21.5 17.0,20.6 17.5,19.7 18.1,18.9 18.9,18.2 19.7,17.5 20.6,16.8 21.5,16.1 22.4,15.5 23.3,14.8 24.2,14.1 24.9,13.3 25.5,12.5 26.0,11.7 26.4,10.7 26.7,9.7 26.8,8.7 26.8,7.6 26.8,6.5 26.8,5.3 26.7,4.2 26.7,3.1 26.8,2.0 26.9,1.0"/><polyline points="19.6,33.0 19.8,32.0 19.8,30.9 19.8,29.8 19.8,28.6 19.7,27.5 19.7,26.4 19.7,25.3 19.9,24.2 20.1,23.2 20.5,22.3 21.0,21.4 21.6,20.6 22.4,19.9 23.2,19.2 24.1,18.5 25.0,17.8 25.9,17.2 26.8,16.5 27.7,15.8 28.4,15.0 29.0,14.2 29.5,13.4 29.9,12.4 30.2,11.4 30.3,10.4 30.3,9.3 30.3,8.2 30.3,7.1 30.2,5.9 30.2,4.8 30.3,3.7 30.4,2.7"/><polyline points="23.1,34.7 23.3,33.7 23.3,32.6 23.3,31.5 23.3,30.3 23.2,29.2 23.2,28.1 23.2,27.0 23.4,25.9 23.6,25.0 24.0,24.0 24.5,23.2 25.1,22.3 25.9,21.6 26.7,20.9 27.6,20.2 28.5,19.5 29.5,18.9 30.3,18.2 31.2,17.5 31.9,16.8 32.5,15.9 33.0,15.1 33.4,14.1 33.7,13.2 33.8,12.1 33.9,11.0 33.8,9.9 33.8,8.8 33.7,7.6 33.7,6.5 33.8,5.4 33.9,4.4"/></g></g></svg>
<div class="t" style="left:148.80px;top:957.06px;font-size:11.5px;line-height:11.5px;font-weight:700;color:#0b1f5c;letter-spacing:0.9px;">KIU Airlines</div>
<div class="t" style="left:283.70px;top:957.65px;font-size:14px;line-height:14px;font-weight:700;color:#333;letter-spacing:0.3px;">14:55</div>
<div class="t" style="left:419.80px;top:954.19px;font-size:13px;line-height:13px;font-weight:400;color:#0a2266;letter-spacing:0px;-webkit-text-stroke:0.25px #0a2266;">Directo</div>
<div class="b" style="left:415px;top:981px;width:51px;height:2px;background:#011c59"></div>
<div class="t" style="left:527.70px;top:957.35px;font-size:14px;line-height:14px;font-weight:700;color:#333;letter-spacing:0.3px;">18:55</div>
<div class="t" style="left:611.30px;top:957.35px;font-size:14px;line-height:14px;font-weight:700;color:#4d5258;letter-spacing:0.2px;">12h5m</div>
<svg class="b" style="left:748px;top:956.7px" width="17" height="12" viewBox="0 0 17 12"><polyline points="2.5,3 8.5,9 14.5,3" fill="none" stroke="#111" stroke-width="2"/></svg>
<div class="b" style="left:818px;top:876px;width:1px;height:111px;background:#d6d6d6"></div>
<div class="t" style="right:406.60px;top:915.54px;font-size:12px;line-height:12px;font-weight:700;color:#333;letter-spacing:0.35px;">Precio Final</div>
<div class="t" style="right:405.55px;top:930.52px;font-size:21px;line-height:21px;font-weight:400;color:#333;letter-spacing:0.68px;-webkit-text-stroke:0.55px #333;">$ 198.200 ARG</div>
<div class="b" style="left:51px;top:1002px;width:1056px;height:84px;box-sizing:border-box;border:1px solid #d4d4d4;background:#fff"></div>
<div class="t" style="right:694.60px;top:1027.84px;font-size:12px;line-height:12px;font-weight:700;color:#333;letter-spacing:0.35px;">Precio Final</div>
<div class="t" style="right:693.55px;top:1042.82px;font-size:21px;line-height:21px;font-weight:400;color:#333;letter-spacing:0.68px;-webkit-text-stroke:0.55px #333;">$ 260.200 ARG</div>
<div class="b" style="left:838px;top:1023.5px;width:249px;height:41px;background:#011c59;border-radius:3px"></div>
<div class="t" style="left:662.80px;width:600px;text-align:center;top:1036.65px;font-size:16px;line-height:16px;font-weight:400;color:#fff;letter-spacing:1.0px;">Book</div>
<div class="b" style="left:1126px;top:290px;width:323px;height:1px;background:#d0d0d0"></div>
<div class="t" style="left:1156.00px;top:320.41px;font-size:19px;line-height:19px;font-weight:700;color:#333;letter-spacing:-0.2px;">Escalas</div>
<svg class="b" style="left:1397px;top:325px" width="12" height="8" viewBox="0 0 12 8"><polyline points="1.5,6.5 6,2 10.5,6.5" fill="none" stroke="#222" stroke-width="1.8"/></svg>
<div class="b" style="left:1160px;top:362px;width:22.3px;height:22.3px;background:#011c59;border-radius:2px"></div>
<svg class="b" style="left:1160px;top:362px" width="22" height="22" viewBox="0 0 22 22"><polyline points="3.3,10.7 8.8,16.1 18.9,5.0" fill="none" stroke="#fff" stroke-width="2.4"/></svg>
<div class="t" style="left:1192.40px;top:363.76px;font-size:18px;line-height:18px;font-weight:400;color:#3d3d3d;letter-spacing:-0.3px;">Directo</div>
<div class="t" style="left:1399.70px;top:363.76px;font-size:18px;line-height:18px;font-weight:400;color:#555;letter-spacing:0px;">3</div>
<div class="b" style="left:1159.5px;top:413px;width:22.3px;height:22.3px;box-sizing:border-box;border:1px solid #b8b8b8;border-radius:2px;background:#fff"></div>
<div class="t" style="left:1193.30px;top:415.06px;font-size:18px;line-height:18px;font-weight:400;color:#3d3d3d;letter-spacing:-0.3px;">1 Escala</div>
<div class="t" style="left:1399.70px;top:415.06px;font-size:18px;line-height:18px;font-weight:400;color:#555;letter-spacing:0px;">3</div>
<div class="b" style="left:1159.5px;top:466.5px;width:22.3px;height:22.3px;box-sizing:border-box;border:1px solid #b8b8b8;border-radius:2px;background:#fff"></div>
<div class="t" style="left:1192.40px;top:467.86px;font-size:18px;line-height:18px;font-weight:400;color:#3d3d3d;letter-spacing:-0.3px;">2 o m&aacute;s escalas</div>
<div class="t" style="left:1399.70px;top:467.86px;font-size:18px;line-height:18px;font-weight:400;color:#555;letter-spacing:0px;">2</div>
<div class="b" style="left:1130px;top:525px;width:323px;height:1px;background:#d0d0d0"></div>
<div class="t" style="left:1160.20px;top:554.71px;font-size:19px;line-height:19px;font-weight:700;color:#333;letter-spacing:-0.2px;">Equipaje</div>
<svg class="b" style="left:1401px;top:559.5px" width="12" height="8" viewBox="0 0 12 8"><polyline points="1.5,6.5 6,2 10.5,6.5" fill="none" stroke="#222" stroke-width="1.8"/></svg>
<div class="b" style="left:1164px;top:596.8px;width:22.3px;height:22.3px;background:#011c59;border-radius:2px"></div>
<svg class="b" style="left:1164px;top:596.8px" width="22" height="22" viewBox="0 0 22 22"><polyline points="3.3,10.7 8.8,16.1 18.9,5.0" fill="none" stroke="#fff" stroke-width="2.4"/></svg>
<div class="t" style="left:1198.60px;top:598.96px;font-size:18px;line-height:18px;font-weight:400;color:#3d3d3d;letter-spacing:-0.3px;">Todas las opciones</div>
<div class="t" style="left:1403.60px;top:598.96px;font-size:18px;line-height:18px;font-weight:400;color:#555;letter-spacing:0px;">3</div>
<div class="b" style="left:1164px;top:648.3px;width:22.3px;height:22.3px;box-sizing:border-box;border:1px solid #b8b8b8;border-radius:2px;background:#fff"></div>
<div class="t" style="left:1197.50px;top:650.16px;font-size:18px;line-height:18px;font-weight:400;color:#3d3d3d;letter-spacing:-0.3px;">Equipaje de mano</div>
<div class="t" style="left:1403.60px;top:650.16px;font-size:18px;line-height:18px;font-weight:400;color:#555;letter-spacing:0px;">3</div>
<div class="b" style="left:1164px;top:701.2px;width:22.3px;height:22.3px;box-sizing:border-box;border:1px solid #b8b8b8;border-radius:2px;background:#fff"></div>
<div class="t" style="left:1197.00px;top:703.06px;font-size:18px;line-height:18px;font-weight:400;color:#3d3d3d;letter-spacing:-0.3px;">Equipaje para despachar</div>
<div class="t" style="left:1403.60px;top:703.06px;font-size:18px;line-height:18px;font-weight:400;color:#555;letter-spacing:0px;">2</div>
<div class="b" style="left:1127px;top:760px;width:323px;height:1px;background:#d0d0d0"></div>
<div class="t" style="left:1157.60px;top:791.11px;font-size:19px;line-height:19px;font-weight:700;color:#333;letter-spacing:-0.2px;">Moneda</div>
<svg class="b" style="left:1398px;top:795px" width="12" height="8" viewBox="0 0 12 8"><polyline points="1.5,6.5 6,2 10.5,6.5" fill="none" stroke="#222" stroke-width="1.8"/></svg>
<div class="b" style="left:1157.5px;top:823.5px;width:252.3px;height:49.3px;box-sizing:border-box;border:1px solid #8c8c8c;border-radius:4px;background:#fff"></div>
<div class="t" style="left:1173.50px;top:840.35px;font-size:16px;line-height:16px;font-weight:400;color:#333;letter-spacing:0px;">Precios Argentinos</div>
<svg class="b" style="left:1377px;top:843px" width="14" height="12" viewBox="0 0 14 12"><polyline points="2.5,3.5 7,8 11.5,3.5" fill="none" stroke="#222" stroke-width="1.8"/></svg>
</body></html>
